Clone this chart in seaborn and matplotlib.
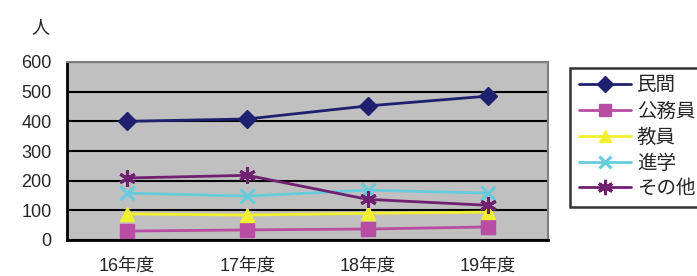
import pandas as pd
import numpy as np
import matplotlib.pyplot as plt
import seaborn as sns

# ── Data ─────────────────────────────────────────────
years = ['16年度', '17年度', '18年度', '19年度']
minkan = [400, 408, 452, 485]
koumuin = [30, 34, 37, 44]
kyouin = [88, 84, 90, 94]
shingaku = [158, 148, 168, 158]
sonota = [209, 218, 137, 117]

series = ['民間', '公務員', '教員', '進学', 'その他']
values = [minkan, koumuin, kyouin, shingaku, sonota]
colors = ['#202070', '#B84DA3', '#F0F030', '#66CCDD', '#702070']
markers = ['D', 's', '^', 'x', (6, 2, 0)]
msizes = [9, 10, 10, 10, 12]

df = pd.DataFrame({
    'year': np.tile(np.arange(len(years)), len(series)),
    'series': np.repeat(series, len(years)),
    'value': np.concatenate(values),
})

sns.set_style("white")
plt.rcParams['font.family'] = ['Liberation Sans', 'Noto Sans CJK JP']

fig = plt.figure(figsize=(6.97, 2.76), dpi=100)
ax = fig.add_axes([67 / 697, 36 / 276, 481 / 697, 178 / 276])
ax.set_facecolor('#C0C0C0')

sns.lineplot(data=df, x='year', y='value', hue='series', hue_order=series,
             palette=colors, ax=ax, legend=False, linewidth=2)

for i, s in enumerate(series):
    sub = df[df['series'] == s]
    ax.plot(sub['year'], sub['value'], linestyle='none', marker=markers[i],
            markersize=msizes[i], color=colors[i], markeredgewidth=2.2 if i >= 3 else 1)

ax.set_xlim(-0.5, 3.5)
ax.set_ylim(0, 600)
ax.set_yticks(range(0, 601, 100))
ax.yaxis.grid(True, color='black', linewidth=1.5)
ax.set_axisbelow(True)
ax.set_xticks([0.5, 1.5, 2.5])
ax.set_xticklabels([])
ax.set_xticks(range(4), minor=True)
ax.set_xticklabels(years, minor=True, fontsize=13)
ax.tick_params(axis='x', which='minor', length=0, pad=13)
ax.tick_params(axis='x', which='major', length=5, width=1.5, direction='in', color='black')
ax.tick_params(axis='y', length=4, width=1.5, direction='in', labelsize=13, pad=11)
ax.set_xlabel('')
ax.set_ylabel('')

for side in ['left', 'bottom']:
    ax.spines[side].set_color('black')
    ax.spines[side].set_linewidth(2)
for side in ['top', 'right']:
    ax.spines[side].set_color('#808080')
    ax.spines[side].set_linewidth(1.5)

fig.text(40 / 697, 1 - 28 / 276, '人', fontsize=13, ha='center', va='center')

# legend
handles = [plt.Line2D([], [], color=colors[i], marker=markers[i], markersize=msizes[i] - 1,
                      linewidth=2, markeredgewidth=2.2 if i >= 3 else 1) for i in range(len(series))]
leg = fig.legend(handles, series, loc='upper left', bbox_to_anchor=(570 / 697, 1 - 68 / 276),
                 frameon=True, fancybox=False, edgecolor='black', fontsize=14,
                 handlelength=2.7, borderpad=0.45, labelspacing=0.4, handletextpad=0.3,
                 borderaxespad=0)
leg.get_frame().set_linewidth(1.8)

plt.savefig('out.png', dpi=100)
